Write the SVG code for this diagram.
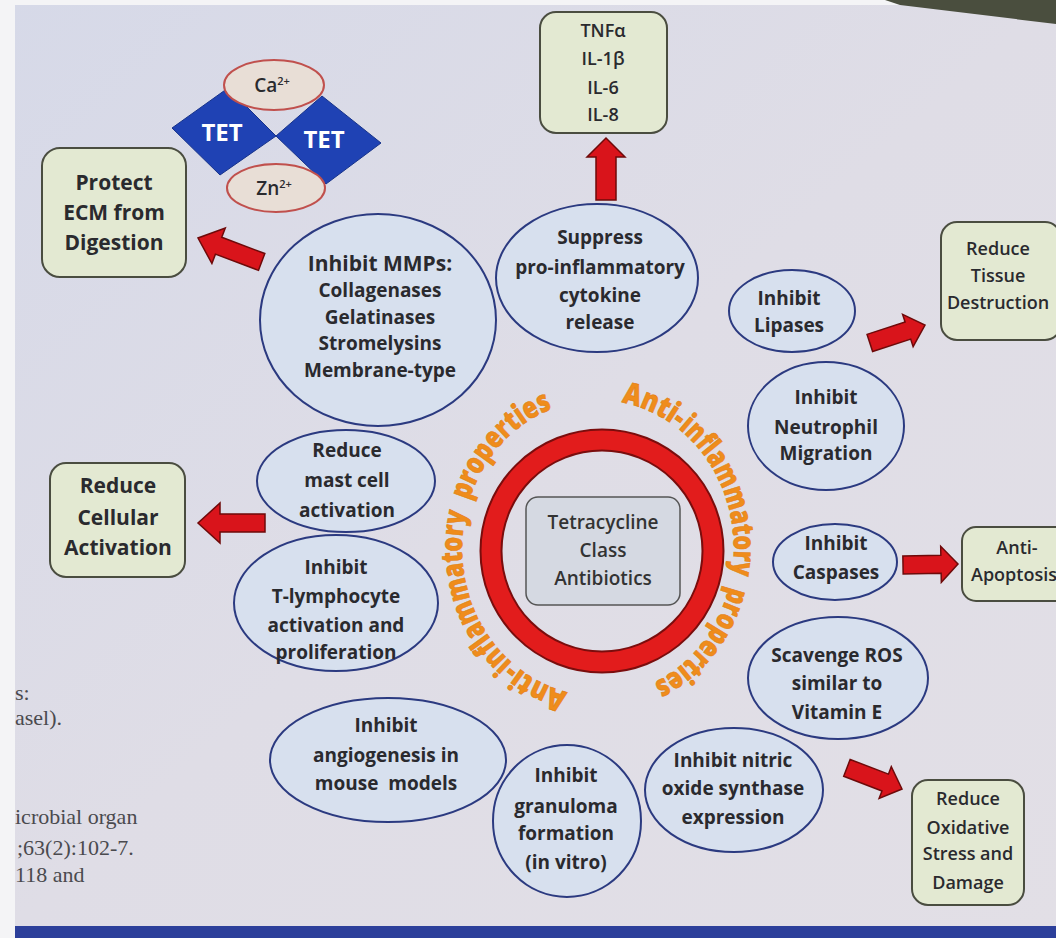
<svg xmlns="http://www.w3.org/2000/svg" width="1056" height="938" viewBox="0 0 1056 938">
<defs>
<linearGradient id="bg" x1="0" y1="0" x2="1" y2="1">
<stop offset="0" stop-color="#d6d9e8"/>
<stop offset="0.5" stop-color="#dfdde6"/>
<stop offset="1" stop-color="#e2dfe6"/>
</linearGradient>
<path id="arcL" d="M 567.4 692.2 A 136 148 0 0 1 558.3 406.5"/>
<path id="arcR" d="M 621.6 402.3 A 136 148 0 0 1 648.9 685.2"/>
</defs>
<style>
.ell{fill:#d7e0ee;stroke:#2b3a80;stroke-width:2}
.box{fill:#e3e9d2;stroke:#4a4d40;stroke-width:2}
.t{font-family:"Open Sans","Noto Sans","Liberation Sans",sans-serif;font-weight:700;fill:#2a2a2e;text-anchor:middle}
.s20{font-size:19px}
.s22{font-size:21px}
.s18{font-size:18px;font-weight:600}
.arrow{fill:#d9141b;stroke:#6e0a0a;stroke-width:1.5;stroke-linejoin:miter}
.orange{font-family:"Open Sans","Noto Sans","Liberation Sans",sans-serif;font-weight:800;font-size:30px;fill:#ef8c1c;stroke:#e07f12;stroke-width:0.6}
.ref{font-family:"Liberation Serif",serif;font-size:22px;fill:#4a4a4e}
</style>
<rect x="0" y="0" width="1056" height="938" fill="url(#bg)"/>
<rect x="0" y="0" width="15" height="938" fill="#f4f4f6"/>
<rect x="0" y="0" width="1056" height="5" fill="#f4f4f6"/>
<polygon points="885,0 1056,0 1056,24 900,5" fill="#4a4e3e"/>
<rect x="15" y="926" width="1041" height="12" fill="#2c3f9a"/>

<g id="refs">
<text class="ref" x="15" y="700">s:</text>
<text class="ref" x="15" y="725">asel).</text>
<text class="ref" x="15" y="824">icrobial organ</text>
<text class="ref" x="17" y="855">;63(2):102-7.</text>
<text class="ref" x="15" y="882">118 and</text>
</g>

<g id="connectors">
<polygon class="arrow" transform="translate(198,238) rotate(200.6)" points="-68,-9 -22,-9 -22,-19 0,0 -22,19 -22,9 -68,9"/>
<polygon class="arrow" transform="translate(606,138) rotate(-90)" points="-62,-10 -19,-10 -19,-19 0,0 -19,19 -19,10 -62,10"/>
<polygon class="arrow" transform="translate(925,325) rotate(-18)" points="-58,-9 -18,-9 -18,-17 0,0 -18,17 -18,9 -58,9"/>
<polygon class="arrow" transform="translate(198,523) rotate(180)" points="-67,-9 -22,-9 -22,-20 0,0 -22,20 -22,9 -67,9"/>
<polygon class="arrow" transform="translate(958,564) rotate(-1)" points="-55,-9 -17,-9 -17,-18 0,0 -17,18 -17,9 -55,9"/>
<polygon class="arrow" transform="translate(902,789) rotate(21)" points="-59,-9 -18,-9 -18,-17 0,0 -18,17 -18,9 -59,9"/>
</g>

<g id="tet-complex">
<polygon points="172,128 228,88 276,136 220,175" fill="#1f42b4" stroke="#17338a" stroke-width="1"/>
<polygon points="276,136 322,96 381,143 326,184" fill="#1f42b4" stroke="#17338a" stroke-width="1"/>
<ellipse cx="274" cy="85" rx="50" ry="25" fill="#e8ded6" stroke="#c0504d" stroke-width="2"/>
<ellipse cx="276" cy="188" rx="49" ry="24" fill="#e8ded6" stroke="#c0504d" stroke-width="2"/>
<text class="t" x="222" y="141" style="font-size:24px;fill:#ffffff">TET</text>
<text class="t" x="324" y="148" style="font-size:24px;fill:#ffffff">TET</text>
<text class="t" x="272" y="92" style="font-size:19px;font-weight:600">Ca<tspan dy="-7" font-size="11">2+</tspan></text>
<text class="t" x="274" y="195" style="font-size:19px;font-weight:600">Zn<tspan dy="-7" font-size="11">2+</tspan></text>
</g>

<g id="protect-ecm">
<rect class="box" x="42" y="148" width="144" height="129" rx="18"/>
<text class="t s22" x="114" y="190">Protect</text>
<text class="t s22" x="114" y="220">ECM from</text>
<text class="t s22" x="114" y="250">Digestion</text>
</g>

<g id="cytokines">
<rect class="box" x="540" y="12" width="127" height="121" rx="16"/>
<text class="t s18" x="603" y="37">TNFα</text>
<text class="t s18" x="603" y="65">IL-1β</text>
<text class="t s18" x="603" y="94">IL-6</text>
<text class="t s18" x="603" y="121">IL-8</text>
</g>

<g id="mmps">
<ellipse class="ell" cx="378" cy="320" rx="118" ry="106"/>
<text class="t" x="380" y="271" style="font-size:21px">Inhibit MMPs:</text>
<text class="t s20" x="380" y="297">Collagenases</text>
<text class="t s20" x="380" y="324">Gelatinases</text>
<text class="t s20" x="380" y="350">Stromelysins</text>
<text class="t s20" x="380" y="377">Membrane-type</text>
</g>

<g id="suppress">
<ellipse class="ell" cx="597" cy="278" rx="101" ry="74"/>
<text class="t s20" x="600" y="244">Suppress</text>
<text class="t s20" x="600" y="274">pro-inflammatory</text>
<text class="t s20" x="600" y="302">cytokine</text>
<text class="t s20" x="600" y="329">release</text>
</g>

<g id="lipases">
<ellipse class="ell" cx="792" cy="311" rx="63" ry="41"/>
<text class="t s20" x="789" y="305">Inhibit</text>
<text class="t s20" x="789" y="332">Lipases</text>
</g>

<g id="tissue">
<rect class="box" x="941" y="222" width="120" height="118" rx="16"/>
<text class="t s18" x="998" y="255">Reduce</text>
<text class="t s18" x="998" y="282">Tissue</text>
<text class="t s18" x="998" y="309">Destruction</text>
</g>

<g id="neutrophil">
<ellipse class="ell" cx="826" cy="426" rx="78" ry="64"/>
<text class="t s20" x="826" y="404">Inhibit</text>
<text class="t s20" x="826" y="434">Neutrophil</text>
<text class="t s20" x="826" y="460">Migration</text>
</g>

<g id="caspases">
<ellipse class="ell" cx="835" cy="562" rx="62" ry="38"/>
<text class="t s20" x="836" y="550">Inhibit</text>
<text class="t s20" x="836" y="579">Caspases</text>
</g>

<g id="apoptosis">
<rect class="box" x="962" y="527" width="110" height="74" rx="14"/>
<text class="t s18" x="1017" y="554">Anti-</text>
<text class="t s18" x="971" y="581" style="text-anchor:start">Apoptosis</text>
</g>

<g id="ros">
<ellipse class="ell" cx="838" cy="678" rx="90" ry="61"/>
<text class="t s20" x="837" y="662">Scavenge ROS</text>
<text class="t s20" x="837" y="690">similar to</text>
<text class="t s20" x="837" y="719">Vitamin E</text>
</g>

<g id="nitric">
<ellipse class="ell" cx="734" cy="790" rx="89" ry="62"/>
<text class="t s20" x="733" y="767">Inhibit nitric</text>
<text class="t s20" x="733" y="795">oxide synthase</text>
<text class="t s20" x="733" y="824">expression</text>
</g>

<g id="oxidative">
<rect class="box" x="912" y="780" width="112" height="125" rx="16"/>
<text class="t s18" x="968" y="805">Reduce</text>
<text class="t s18" x="968" y="834">Oxidative</text>
<text class="t s18" x="968" y="860">Stress and</text>
<text class="t s18" x="968" y="889">Damage</text>
</g>

<g id="granuloma">
<ellipse class="ell" cx="567" cy="821" rx="74" ry="76"/>
<text class="t s20" x="566" y="782">Inhibit</text>
<text class="t s20" x="566" y="813">granuloma</text>
<text class="t s20" x="566" y="840">formation</text>
<text class="t s20" x="566" y="869">(in vitro)</text>
</g>

<g id="angiogenesis">
<ellipse class="ell" cx="388" cy="760" rx="118" ry="62"/>
<text class="t s20" x="386" y="732">Inhibit</text>
<text class="t s20" x="386" y="762">angiogenesis in</text>
<text class="t s20" x="386" y="790" xml:space="preserve">mouse  models</text>
</g>

<g id="mastcell">
<ellipse class="ell" cx="346" cy="481" rx="89" ry="51"/>
<text class="t s20" x="347" y="457">Reduce</text>
<text class="t s20" x="347" y="487">mast cell</text>
<text class="t s20" x="347" y="517">activation</text>
</g>

<g id="tlymph">
<ellipse class="ell" cx="336" cy="603" rx="102" ry="68"/>
<text class="t s20" x="336" y="574">Inhibit</text>
<text class="t s20" x="336" y="603">T-lymphocyte</text>
<text class="t s20" x="336" y="632">activation and</text>
<text class="t s20" x="336" y="659">proliferation</text>
</g>

<g id="cellular">
<rect class="box" x="50" y="463" width="135" height="114" rx="16"/>
<text class="t s22" x="118" y="493">Reduce</text>
<text class="t s22" x="118" y="525">Cellular</text>
<text class="t s22" x="118" y="555">Activation</text>
</g>

<g id="center">
<circle cx="602" cy="551" r="111" fill="none" stroke="#7a0d0d" stroke-width="23"/>
<circle cx="602" cy="551" r="111" fill="none" stroke="#e21c1c" stroke-width="19"/>
<rect x="526" y="497" width="154" height="108" rx="12" fill="#d5d9e2" stroke="#555" stroke-width="1.5"/>
<text class="t" x="603" y="529" style="font-size:19px;font-weight:600;fill:#333">Tetracycline</text>
<text class="t" x="603" y="557" style="font-size:19px;font-weight:600;fill:#333">Class</text>
<text class="t" x="603" y="585" style="font-size:19px;font-weight:600;fill:#333">Antibiotics</text>
</g>

<g id="arc-labels">
<text class="orange"><textPath href="#arcL" textLength="62" lengthAdjust="spacingAndGlyphs">Anti-</textPath></text>
<text class="orange"><textPath href="#arcL" startOffset="63" textLength="165" lengthAdjust="spacingAndGlyphs">inflammatory</textPath></text>
<text class="orange"><textPath href="#arcL" startOffset="240" textLength="128" lengthAdjust="spacingAndGlyphs">properties</textPath></text>
<text class="orange"><textPath href="#arcR" textLength="62" lengthAdjust="spacingAndGlyphs">Anti-</textPath></text>
<text class="orange"><textPath href="#arcR" startOffset="63" textLength="163" lengthAdjust="spacingAndGlyphs">inflammatory</textPath></text>
<text class="orange"><textPath href="#arcR" startOffset="238" textLength="126" lengthAdjust="spacingAndGlyphs">properties</textPath></text>
</g>
</svg>
